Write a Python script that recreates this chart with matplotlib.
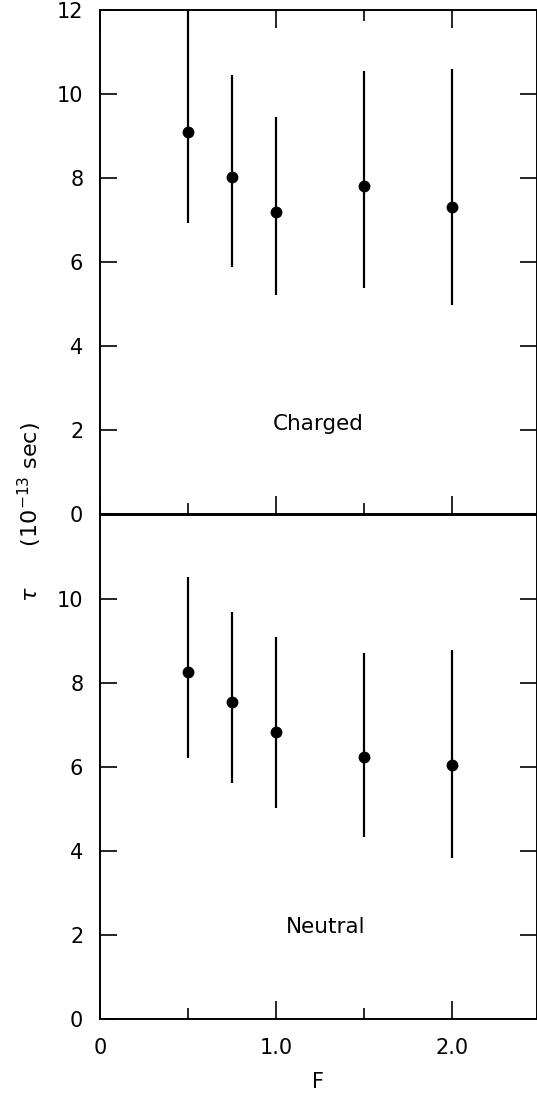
import matplotlib
matplotlib.use("Agg")
import matplotlib.pyplot as plt
from matplotlib.ticker import FixedLocator, FixedFormatter, NullFormatter

# Lifetime tau (units of 1e-13 s) versus F, with upper / lower error limits
F = [0.5, 0.75, 1.0, 1.5, 2.0]

tau_charged = [9.10, 8.02, 7.20, 7.81, 7.32]
charged_hi = [12.3, 10.45, 9.46, 10.55, 10.60]
charged_lo = [6.94, 5.87, 5.21, 5.39, 4.98]

tau_neutral = [8.27, 7.54, 6.83, 6.23, 6.05]
neutral_hi = [10.53, 9.70, 9.10, 8.71, 8.79]
neutral_lo = [6.21, 5.61, 5.03, 4.34, 3.83]

x_major = [0.0, 1.0, 2.0]
x_major_labels = ["0", "1.0", "2.0"]
x_minor = [0.5, 1.5]

W, H = 537, 1097
plt.rcParams["font.family"] = ["DejaVu Sans"]
fig = plt.figure(figsize=(W / 100, H / 100), dpi=100)

ax_top = fig.add_axes([100 / W, 1 - 514 / H, 437 / W, 504 / H])
ax_bot = fig.add_axes([100 / W, 1 - 1019 / H, 437 / W, 504 / H])

LW = 1.4


def draw(ax, tau, hi, lo, label, ytick_vals, lx, ly):
    yerr = [[t - l for t, l in zip(tau, lo)], [h - t for t, h in zip(tau, hi)]]
    ax.errorbar(F, tau, yerr=yerr, fmt="o", color="black", ms=7.5,
                elinewidth=1.6, capsize=0)
    ax.set_xlim(0, 437 / 176)
    ax.set_ylim(0, 12)
    for s in ax.spines.values():
        s.set_linewidth(LW)
    ax.yaxis.set_major_locator(FixedLocator(ytick_vals))
    ax.yaxis.set_major_formatter(FixedFormatter([f"{int(v)}" for v in ytick_vals]))
    ax.tick_params(axis="y", which="major", direction="in", left=True, right=True,
                   length=12, width=1.2, pad=12, labelsize=15)
    ax.xaxis.set_major_locator(FixedLocator(x_major))
    ax.xaxis.set_minor_locator(FixedLocator(x_minor))
    ax.tick_params(axis="x", which="major", direction="in", length=13, width=1.2,
                   labelsize=15, pad=14)
    ax.tick_params(axis="x", which="minor", direction="in", length=8, width=1.2)
    ax.text(lx, ly, label, ha="center", va="center", fontsize=15.5)


draw(ax_top, tau_charged, charged_hi, charged_lo, "Charged",
     [0, 2, 4, 6, 8, 10, 12], 1.24, 2.15)
draw(ax_bot, tau_neutral, neutral_hi, neutral_lo, "Neutral",
     [0, 2, 4, 6, 8, 10], 1.28, 2.2)

ax_top.tick_params(axis="x", which="both", top=True, bottom=True,
                   labelbottom=False)
ax_bot.tick_params(axis="x", which="both", top=False, bottom=True)
ax_bot.xaxis.set_major_formatter(FixedFormatter(x_major_labels))
ax_bot.xaxis.set_minor_formatter(NullFormatter())
ax_bot.set_xlabel("F", fontsize=15, labelpad=10)

fig.text(30 / W, 1 - 512 / H, r"$\tau$      (10$^{-13}$ sec)", rotation=90,
         ha="center", va="center", fontsize=16)

fig.savefig("out.png", dpi=100)
